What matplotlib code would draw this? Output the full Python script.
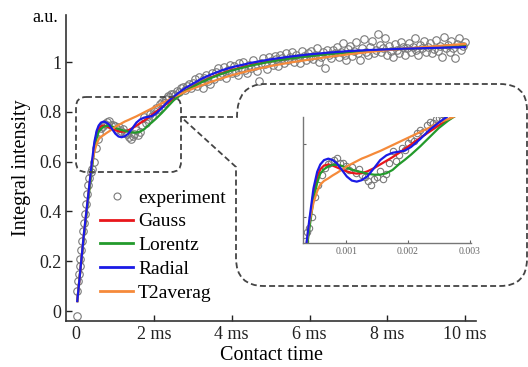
import matplotlib
matplotlib.use('Agg')
import matplotlib.pyplot as plt
from matplotlib.path import Path
from matplotlib.patches import PathPatch, FancyBboxPatch
from matplotlib.lines import Line2D

plt.rcParams['font.family'] = ['Liberation Serif', 'DejaVu Serif']

# measured points (contact time in ms, intensity in a.u.)
exp_t = [0.01, 0.02, 0.05, 0.07, 0.09, 0.11, 0.13, 0.15, 0.17, 0.19, 0.22, 0.25, 0.28, 0.31, 0.34, 0.37,
         0.40, 0.45, 0.50, 0.55, 0.60, 0.65, 0.70, 0.75, 0.80, 0.85,
         0.90, 0.95, 1.00, 1.05, 1.10, 1.15, 1.20, 1.25, 1.30, 1.35,
         1.40, 1.45, 1.50, 1.55, 1.60, 1.65, 1.70, 1.75, 1.80, 1.85,
         1.90, 1.95, 2.00, 2.05, 2.10, 2.15, 2.20, 2.25, 2.30, 2.35,
         2.40, 2.45, 2.50, 2.55, 2.60, 2.65, 2.70, 2.75, 2.80, 2.85,
         2.90, 2.95, 3.00,
         3.05, 3.10, 3.15, 3.20, 3.25, 3.30, 3.35, 3.40, 3.45, 3.50,
         3.55, 3.60, 3.65, 3.70, 3.75, 3.80, 3.85, 3.90, 3.95, 4.00,
         4.05, 4.10, 4.15, 4.20, 4.25, 4.30, 4.35, 4.40, 4.45, 4.50,
         4.55, 4.60, 4.65, 4.70, 4.75, 4.80, 4.85, 4.90, 4.95, 5.00,
         5.05, 5.10, 5.15, 5.20, 5.25, 5.30, 5.35, 5.40, 5.45, 5.50,
         5.55, 5.60, 5.65, 5.70, 5.75, 5.80, 5.85, 5.90, 5.95, 6.00,
         6.05, 6.10, 6.15, 6.20, 6.25, 6.30, 6.35, 6.40, 6.45, 6.50,
         6.55, 6.60, 6.65, 6.70, 6.75, 6.80, 6.85, 6.90, 6.95, 7.00,
         7.05, 7.10, 7.15, 7.20, 7.25, 7.30, 7.35, 7.40, 7.45, 7.50,
         7.55, 7.60, 7.65, 7.70, 7.75, 7.80, 7.85, 7.90, 7.95, 8.00,
         8.05, 8.10, 8.15, 8.20, 8.25, 8.30, 8.35, 8.40, 8.45, 8.50,
         8.55, 8.60, 8.65, 8.70, 8.75, 8.80, 8.85, 8.90, 8.95, 9.00,
         9.05, 9.10, 9.15, 9.20, 9.25, 9.30, 9.35, 9.40, 9.45, 9.50,
         9.55, 9.60, 9.65, 9.70, 9.75, 9.80, 9.85, 9.90, 9.95, 10.00]
exp_v = [-0.02, 0.08, 0.12, 0.15, 0.18, 0.21, 0.245, 0.28, 0.32, 0.355, 0.39, 0.43, 0.47, 0.505, 0.535, 0.56,
         0.57, 0.60, 0.655, 0.69, 0.715, 0.735, 0.745, 0.752, 0.758, 0.764,
         0.748, 0.749, 0.742, 0.73, 0.738, 0.722, 0.733, 0.716, 0.71, 0.699,
         0.69, 0.704, 0.712, 0.726, 0.706, 0.72, 0.749, 0.781, 0.755, 0.77,
         0.79, 0.785, 0.805, 0.815, 0.81, 0.832, 0.84, 0.835, 0.852, 0.862,
         0.858, 0.87, 0.872, 0.866, 0.884, 0.878, 0.895, 0.90, 0.888, 0.905,
         0.912, 0.896, 0.915,
         0.93, 0.905, 0.94, 0.918, 0.897, 0.935, 0.95, 0.925, 0.912, 0.958,
         0.93, 0.962, 0.975, 0.944, 0.955, 0.98, 0.935, 0.968, 0.99, 0.958,
         0.985, 0.962, 0.95, 0.995, 0.978, 1.002, 0.968, 0.955, 0.99, 0.976,
         1.01, 0.985, 0.965, 0.924, 0.998, 1.015, 0.992, 0.972, 1.02, 1.005,
         0.99, 1.025, 1.012, 0.985, 1.03, 1.018, 0.995, 1.035, 1.008, 1.022,
         1.04, 1.002, 1.028, 1.015, 0.998, 1.045, 1.025, 1.01, 1.036, 1.02,
         1.045, 1.012, 1.03, 1.058, 1.00, 1.022, 1.04, 0.978, 1.05, 1.028,
         1.015, 1.048, 1.035, 1.062, 1.02, 1.04, 1.075, 1.03, 1.008, 1.052,
         1.065, 1.025, 1.045, 1.08, 1.038, 1.01, 1.058, 1.092, 1.042, 1.03,
         1.06, 1.085, 1.035, 1.05, 1.112, 1.07, 1.04, 1.058, 1.095, 1.03,
         1.065, 1.045, 1.02, 1.072, 1.05, 1.038, 1.082, 1.06, 1.028, 1.055,
         1.075, 1.04, 1.062, 1.098, 1.048, 1.03, 1.068, 1.055, 1.085, 1.042,
         1.06, 1.078, 1.035, 1.052, 1.09, 1.045, 1.065, 1.022, 1.10, 1.058,
         1.07, 1.04, 1.085, 1.055, 1.015, 1.072, 1.095, 1.05, 1.065, 1.08]

# fitted curves, sampled on a shared time grid (ms)
fit_t = [0.03, 0.1, 0.2, 0.3, 0.4, 0.47, 0.53, 0.58, 0.64, 0.71, 0.78, 0.85, 0.93, 1.01,
         1.09, 1.17, 1.25, 1.34, 1.45, 1.55, 1.65, 1.75, 1.85, 1.95, 2.05, 2.2, 2.35, 2.5,
         2.65, 2.8, 3.0, 3.25, 3.5, 3.75, 4.0, 4.5, 5.0, 5.5, 6.0, 6.5, 7.0, 7.5, 8.0,
         8.5, 9.0, 9.5, 10.0]
gauss = [0.04, 0.15, 0.30, 0.44, 0.575, 0.665, 0.71, 0.732, 0.742, 0.745, 0.742, 0.737, 0.731, 0.726,
         0.722, 0.72, 0.721, 0.726, 0.735, 0.745, 0.755, 0.765, 0.776, 0.788, 0.80, 0.818, 0.835, 0.852,
         0.868, 0.883, 0.902, 0.922, 0.94, 0.955, 0.968, 0.988, 1.003, 1.015, 1.025, 1.033, 1.04, 1.045, 1.05,
         1.054, 1.057, 1.06, 1.063]
lorentz = [0.04, 0.15, 0.30, 0.435, 0.565, 0.65, 0.695, 0.72, 0.732, 0.74, 0.744, 0.744, 0.741, 0.736,
           0.731, 0.727, 0.724, 0.72, 0.717, 0.717, 0.721, 0.73, 0.745, 0.758, 0.772, 0.795, 0.82, 0.845,
           0.865, 0.882, 0.90, 0.921, 0.938, 0.953, 0.966, 0.986, 1.002, 1.014, 1.024, 1.032, 1.039, 1.045, 1.05,
           1.054, 1.057, 1.06, 1.063]
radial = [0.04, 0.15, 0.31, 0.45, 0.59, 0.68, 0.725, 0.745, 0.757, 0.761, 0.757, 0.748, 0.73, 0.712,
          0.701, 0.698, 0.702, 0.712, 0.735, 0.757, 0.77, 0.777, 0.78, 0.783, 0.793, 0.815, 0.84, 0.86,
          0.878, 0.895, 0.913, 0.935, 0.952, 0.967, 0.979, 0.997, 1.011, 1.022, 1.031, 1.038, 1.044, 1.048, 1.051,
          1.054, 1.056, 1.058, 1.06]
t2avg = [0.04, 0.15, 0.31, 0.45, 0.585, 0.64, 0.672, 0.69, 0.70, 0.707, 0.715, 0.722, 0.731, 0.74,
         0.747, 0.754, 0.761, 0.767, 0.775, 0.782, 0.79, 0.798, 0.806, 0.814, 0.822, 0.834, 0.846, 0.86,
         0.869, 0.88, 0.893, 0.908, 0.922, 0.935, 0.947, 0.967, 0.984, 0.998, 1.01, 1.021, 1.031, 1.04, 1.048,
         1.055, 1.061, 1.067, 1.073]

xtick_vals = [0, 2, 4, 6, 8, 10]
xtick_labels = ['0', '2 ms', '4 ms', '6 ms', '8 ms', '10 ms']
ytick_vals = [0, 0.2, 0.4, 0.6, 0.8, 1.0]
ytick_labels = ['0', '0.2', '0.4', '0.6', '0.8', '1']

c_exp = '#7a7a7a'
c_gauss = '#e8161b'
c_lor = '#239a2b'
c_rad = '#1a1ae6'
c_t2 = '#f58a3a'
fits = [(gauss, c_gauss, 'Gauss'), (lorentz, c_lor, 'Lorentz'),
        (t2avg, c_t2, 'T2averag'), (radial, c_rad, 'Radial')]

W, H = 528, 367
fig = plt.figure(figsize=(W / 100, H / 100), dpi=100)

# main panel
ax = fig.add_axes([66 / W, 1 - 321 / H, 410 / W, 306 / H])
ax.plot(exp_t, exp_v, 'o', ms=5.4, mfc='none', mec=c_exp, mew=0.8, zorder=2)
for vals, col, lab in fits:
    ax.plot(fit_t, vals, color=col, lw=1.6, zorder=3)
ax.set_xlim(-0.26, 10.28)
ax.set_ylim(-0.04, 1.189)
ax.set_xticks(xtick_vals)
ax.set_xticklabels(xtick_labels)
ax.set_yticks(ytick_vals)
ax.set_yticklabels(ytick_labels)
ax.tick_params(direction='in', length=4, width=1, labelsize=13, colors='#222')
ax.xaxis.get_major_ticks()[0].tick1line.set_visible(False)
for s in ['top', 'right']:
    ax.spines[s].set_visible(False)
for s in ['left', 'bottom']:
    ax.spines[s].set_color('#333')
    ax.spines[s].set_linewidth(1.2)
ax.set_xlabel('Contact time', fontsize=14.5, labelpad=2)
ax.set_ylabel('Integral intensity', fontsize=14.5, labelpad=6)
fig.text(45 / W, 1 - 17 / H, 'a.u.', fontsize=13, ha='center', va='center')

handles = [Line2D([], [], ls='none', marker='o', ms=5, mfc='none', mec=c_exp, mew=0.8)]
labels = ['experiment']
for vals, col, lab in [fits[0], fits[1], fits[3], fits[2]]:
    handles.append(Line2D([], [], color=col, lw=2))
    labels.append(lab)
fig.legend(handles, labels, loc='upper left', bbox_to_anchor=(100 / W, 1 - 189 / H),
           frameon=False, fontsize=14, handlelength=1.7, handletextpad=0.25,
           labelspacing=0.32, borderpad=0, borderaxespad=0)

# zoomed inset (time in seconds)
ins = fig.add_axes([303 / W, 1 - 243 / H, 168 / W, 126 / H])
ins.plot([t * 1e-3 for t in exp_t], exp_v, 'o', ms=4.6, mfc='none', mec=c_exp, mew=0.8, zorder=2)
for vals, col, lab in fits:
    ins.plot([t * 1e-3 for t in fit_t], vals, color=col, lw=1.6, zorder=3)
ins.set_xlim(0.0003, 0.00302)
ins.set_ylim(0.53, 0.875)
ins.set_xticks([0.001, 0.002, 0.003])
ins.set_xticklabels(['0.001', '0.002', '0.003'])
ins.set_yticks([0.6, 0.8])
ins.set_yticklabels([])
ins.tick_params(direction='in', length=2.5, width=0.8, labelsize=7, colors='#666', pad=3)
for s in ['top', 'right']:
    ins.spines[s].set_visible(False)
for s in ['left', 'bottom']:
    ins.spines[s].set_color('#777')
    ins.spines[s].set_linewidth(1.0)
ins.patch.set_alpha(0)

# dashed callout, drawn in pixel space on a transparent overlay
ov = fig.add_axes([0, 0, 1, 1])
ov.set_xlim(0, W)
ov.set_ylim(H, 0)
ov.axis('off')
ov.patch.set_alpha(0)
dash = dict(ls=(0, (3.3, 1.8)), lw=1.3, ec='#444', fc='none')
ov.add_patch(FancyBboxPatch((76, 97), 105, 75, boxstyle='round,pad=0,rounding_size=10', **dash))
verts = [(181, 117), (237, 117),
         (237, 84), (265, 84),
         (500, 84),
         (527, 84), (527, 110),
         (527, 259),
         (527, 286), (500, 286),
         (264, 286),
         (236, 286), (236, 258),
         (236, 167),
         (181, 117)]
codes = [Path.MOVETO, Path.LINETO,
         Path.CURVE3, Path.CURVE3,
         Path.LINETO,
         Path.CURVE3, Path.CURVE3,
         Path.LINETO,
         Path.CURVE3, Path.CURVE3,
         Path.LINETO,
         Path.CURVE3, Path.CURVE3,
         Path.LINETO,
         Path.LINETO]
ov.add_patch(PathPatch(Path(verts, codes), clip_on=False, **dash))

fig.savefig('out.png', dpi=100)
